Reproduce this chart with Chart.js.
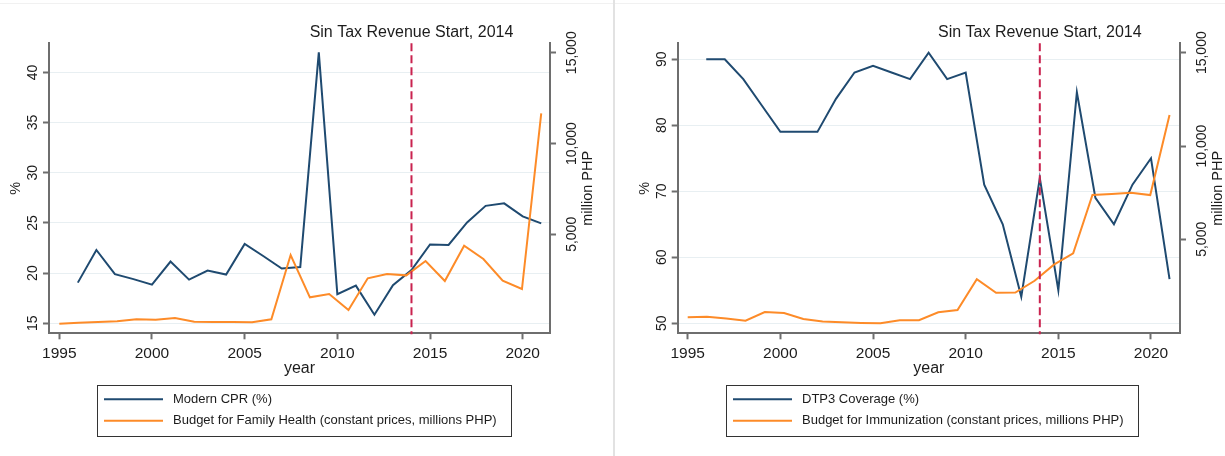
<!DOCTYPE html>
<html>
<head>
<meta charset="utf-8">
<script src="https://cdn.jsdelivr.net/npm/chart.js@4.4.1/dist/chart.umd.min.js"></script>
<style>
  html, body { margin: 0; padding: 0; background: #ffffff; }
  body { width: 1225px; height: 456px; position: relative; overflow: hidden; }
  #panelLeft { position: absolute; left: 0; top: 0; }
  #panelRight { position: absolute; left: 616px; top: 0; }
  .divider { position: absolute; left: 613px; top: 0; width: 2px; height: 456px; background: #e2e2e2; }
  .topline { position: absolute; left: 0; top: 3px; width: 1225px; height: 1px; background: #f1f1f1; }
</style>
</head>
<body>
<div class="topline"></div>
<canvas id="panelLeft" width="612" height="456"></canvas>
<div class="divider"></div>
<canvas id="panelRight" width="609" height="456"></canvas>
<script>
// ---------------- data ----------------
const cprYears = [1996, 1997, 1998, 1999, 2000, 2001, 2002, 2003, 2004, 2005, 2006, 2007, 2008,
                  2009, 2010, 2011, 2012, 2013, 2014, 2015, 2016, 2017, 2018, 2019, 2020, 2021];
const modernCPR = [19.05, 22.3, 19.9, 19.4, 18.85, 21.15, 19.35, 20.25, 19.85, 22.9, 21.7, 20.45, 20.6,
                   42.0, 17.9, 18.75, 15.85, 18.8, 20.3, 22.85, 22.8, 25.05, 26.7, 26.95, 25.65, 24.95];

// budget series are plotted on their own (stretched) year positions
const familyBudgetYears = [1995, 1996.04, 1997.08, 1998.12, 1999.16, 2000.2, 2001.24, 2002.28, 2003.32,
                           2004.36, 2005.4, 2006.44, 2007.48, 2008.52, 2009.56, 2010.6, 2011.64, 2012.68,
                           2013.72, 2014.76, 2015.8, 2016.84, 2017.88, 2018.92, 2019.96, 2021];
const familyHealthBudget = [80, 130, 170, 210, 320, 300, 390, 190, 170, 170, 160, 320, 3860,
                            1530, 1710, 830, 2580, 2810, 2740, 3530, 2430, 4370, 3640, 2445, 1990, 11660];

const dtp3Years = [1996, 1997, 1998, 1999, 2000, 2001, 2002, 2003, 2004, 2005, 2006, 2007, 2008,
                   2009, 2010, 2011, 2012, 2013, 2014, 2015, 2016, 2017, 2018, 2019, 2020, 2021];
const dtp3Coverage = [90, 90, 87, 83, 79, 79, 79, 84, 88, 89, 88, 87, 91,
                      87, 88, 71, 65, 54, 72, 55, 85, 69, 65, 71, 75, 56.7];

const immunizationBudgetYears = [1995, 1996.04, 1997.08, 1998.12, 1999.16, 2000.2, 2001.24, 2002.28, 2003.32,
                                 2004.36, 2005.4, 2006.44, 2007.48, 2008.52, 2009.56, 2010.6, 2011.64, 2012.68,
                                 2013.72, 2014.76, 2015.8, 2016.84, 2017.88, 2018.92, 2019.96, 2021];
const immunizationBudget = [820, 850, 750, 640, 1100, 1050, 730, 590, 550, 520, 500, 660, 660,
                            1090, 1210, 2860, 2130, 2150, 2780, 3640, 4250, 7380, 7430, 7500, 7370, 11660];

const yearTicks = [1995, 2000, 2005, 2010, 2015, 2020];
const cprTicks = [15, 20, 25, 30, 35, 40];
const dtp3Ticks = [50, 60, 70, 80, 90];
const budgetTicks = [5000, 10000, 15000];

const sinTaxYear = 2014;
const sinTaxLabel = 'Sin Tax Revenue Start, 2014';

// ---------------- styling ----------------
const FONT = '"Liberation Sans", Arial, Helvetica, sans-serif';
const INK = '#1c1c1c';
const AXIS = '#6e6e6e';
const GRID = '#e8eff2';
const NAVY = '#1f4a70';
const ORANGE = '#fd8b28';
const CRIMSON = '#c9234f';

const fmtYear = v => String(v);
const fmtPct = v => String(v);
const fmtBudget = v => v.toLocaleString('en-US');

function rotatedText(ctx, text, baselineX, centerY) {
  ctx.save();
  ctx.translate(baselineX, centerY);
  ctx.rotate(-Math.PI / 2);
  ctx.textAlign = 'center';
  ctx.textBaseline = 'alphabetic';
  ctx.fillText(text, 0, 0);
  ctx.restore();
}

// Stata-style decorations: reference line, rotated axis text, boxed legend
const stataDecor = {
  id: 'stataDecor',
  afterDatasetsDraw(chart, args, opts) {
    const ctx = chart.ctx;
    const area = chart.chartArea;
    const xl = chart.scales.x.getPixelForValue(opts.lineYear);
    ctx.save();
    ctx.strokeStyle = CRIMSON;
    ctx.lineWidth = 2;
    ctx.setLineDash([8, 4]);
    ctx.beginPath();
    ctx.moveTo(xl, area.top);
    ctx.lineTo(xl, area.bottom + 1);
    ctx.stroke();
    ctx.restore();
  },
  afterDraw(chart, args, opts) {
    const ctx = chart.ctx;
    const area = chart.chartArea;
    const { x, y, y2 } = chart.scales;
    const midY = (area.top + area.bottom) / 2;
    ctx.save();
    ctx.fillStyle = INK;

    // reference line caption
    ctx.font = '16px ' + FONT;
    ctx.textAlign = 'center';
    ctx.textBaseline = 'alphabetic';
    ctx.fillText(opts.lineLabel, x.getPixelForValue(opts.lineYear), area.top - 6);

    // x tick labels and title
    ctx.font = '15.5px ' + FONT;
    x.ticks.forEach(t => {
      ctx.fillText(fmtYear(t.value), x.getPixelForValue(t.value), area.bottom + 25);
    });
    ctx.font = '16px ' + FONT;
    ctx.fillText('year', (area.left + area.right) / 2, area.bottom + 39.4);

    // left axis
    ctx.font = '14px ' + FONT;
    y.ticks.forEach(t => rotatedText(ctx, fmtPct(t.value), area.left - 12, y.getPixelForValue(t.value)));
    ctx.font = '14.5px ' + FONT;
    rotatedText(ctx, '%', area.left - 29, midY);

    // right axis
    ctx.font = '14px ' + FONT;
    y2.ticks.forEach(t => rotatedText(ctx, fmtBudget(t.value), area.right + 25.5, y2.getPixelForValue(t.value)));
    ctx.font = '14.5px ' + FONT;
    rotatedText(ctx, 'million PHP', area.right + 42, midY);

    // legend box
    ctx.font = '13px ' + FONT;
    const ds = chart.data.datasets;
    const textW = Math.max(...ds.map(d => ctx.measureText(d.label).width));
    const padL = 6.5, sampleLen = 59, gap = 10, padR = 15;
    const boxW = Math.round(padL + sampleLen + gap + textW + padR);
    const boxLeft = Math.round((area.left + area.right) / 2 + opts.legendShift - boxW / 2) + 0.5;
    const boxTop = Math.round(area.bottom + 51.7) + 0.5;
    const boxH = 51;
    ctx.strokeStyle = '#333333';
    ctx.lineWidth = 1;
    ctx.strokeRect(boxLeft, boxTop, boxW, boxH);
    const rows = [area.bottom + 66, area.bottom + 87.4];
    ds.forEach((d, i) => {
      ctx.strokeStyle = d.borderColor;
      ctx.lineWidth = 2;
      ctx.beginPath();
      ctx.moveTo(boxLeft + padL, rows[i]);
      ctx.lineTo(boxLeft + padL + sampleLen, rows[i]);
      ctx.stroke();
      ctx.fillStyle = INK;
      ctx.textAlign = 'left';
      ctx.textBaseline = 'middle';
      ctx.fillText(d.label, boxLeft + padL + sampleLen + gap, rows[i]);
    });
    ctx.restore();
  }
};

function buildPanel(canvas, p) {
  return new Chart(canvas, {
    type: 'line',
    data: {
      datasets: [
        {
          label: p.pctLabel,
          data: p.pctYears.map((yr, i) => ({ x: yr, y: p.pct[i] })),
          yAxisID: 'y',
          borderColor: NAVY,
          order: 1
        },
        {
          label: p.budgetLabel,
          data: p.budgetYears.map((yr, i) => ({ x: yr, y: p.budget[i] })),
          yAxisID: 'y2',
          borderColor: ORANGE,
          order: 0
        }
      ]
    },
    options: {
      responsive: false,
      animation: false,
      layout: { padding: { top: 43.3, left: 0, right: 0, bottom: 0 } },
      elements: {
        point: { radius: 0, hoverRadius: 0 },
        line: { borderWidth: 2, tension: 0, fill: false, borderJoinStyle: 'miter' }
      },
      plugins: {
        legend: { display: false },
        tooltip: { enabled: false },
        stataDecor: { lineYear: sinTaxYear, lineLabel: sinTaxLabel, legendShift: p.legendShift }
      },
      scales: {
        x: {
          type: 'linear',
          min: p.xMin, max: p.xMax,
          afterBuildTicks: s => { s.ticks = yearTicks.map(v => ({ value: v })); },
          afterFit: s => { s.height = 456 - 333.3; },
          ticks: { display: false },
          grid: { drawOnChartArea: false, drawTicks: true, tickLength: 6, tickColor: AXIS, tickWidth: 2 },
          border: { color: AXIS, width: 2 }
        },
        y: {
          type: 'linear',
          position: 'left',
          min: p.yMin, max: p.yMax,
          afterBuildTicks: s => { s.ticks = p.pctTicks.map(v => ({ value: v })); },
          afterFit: s => { s.width = p.leftWidth; },
          ticks: { display: false },
          grid: { color: GRID, lineWidth: 1, drawTicks: true, tickLength: 6, tickColor: AXIS, tickWidth: 2 },
          border: { color: AXIS, width: 2 }
        },
        y2: {
          type: 'linear',
          position: 'right',
          min: p.y2Min, max: p.y2Max,
          afterBuildTicks: s => { s.ticks = budgetTicks.map(v => ({ value: v })); },
          afterFit: s => { s.width = p.rightWidth; },
          ticks: { display: false },
          grid: { drawOnChartArea: false, drawTicks: true, tickLength: 6, tickColor: AXIS, tickWidth: 2 },
          border: { color: AXIS, width: 2 }
        }
      }
    },
    plugins: [stataDecor]
  });
}

buildPanel(document.getElementById('panelLeft'), {
  pctLabel: 'Modern CPR (%)',
  budgetLabel: 'Budget for Family Health (constant prices, millions PHP)',
  pctYears: cprYears, pct: modernCPR,
  budgetYears: familyBudgetYears, budget: familyHealthBudget,
  pctTicks: cprTicks,
  xMin: 1994.444, xMax: 2021.473,
  yMin: 14.0, yMax: 42.9,
  y2Min: -450, y2Max: 15520,
  leftWidth: 49, rightWidth: 62,
  legendShift: 4.5
});

buildPanel(document.getElementById('panelRight'), {
  pctLabel: 'DTP3 Coverage (%)',
  budgetLabel: 'Budget for Immunization (constant prices, millions PHP)',
  pctYears: dtp3Years, pct: dtp3Coverage,
  budgetYears: immunizationBudgetYears, budget: immunizationBudget,
  pctTicks: dtp3Ticks,
  xMin: 1994.46, xMax: 2021.565,
  yMin: 48.48, yMax: 92.42,
  y2Min: -37, y2Max: 15504,
  leftWidth: 61.7, rightWidth: 45,
  legendShift: 3
});
</script>
</body>
</html>
